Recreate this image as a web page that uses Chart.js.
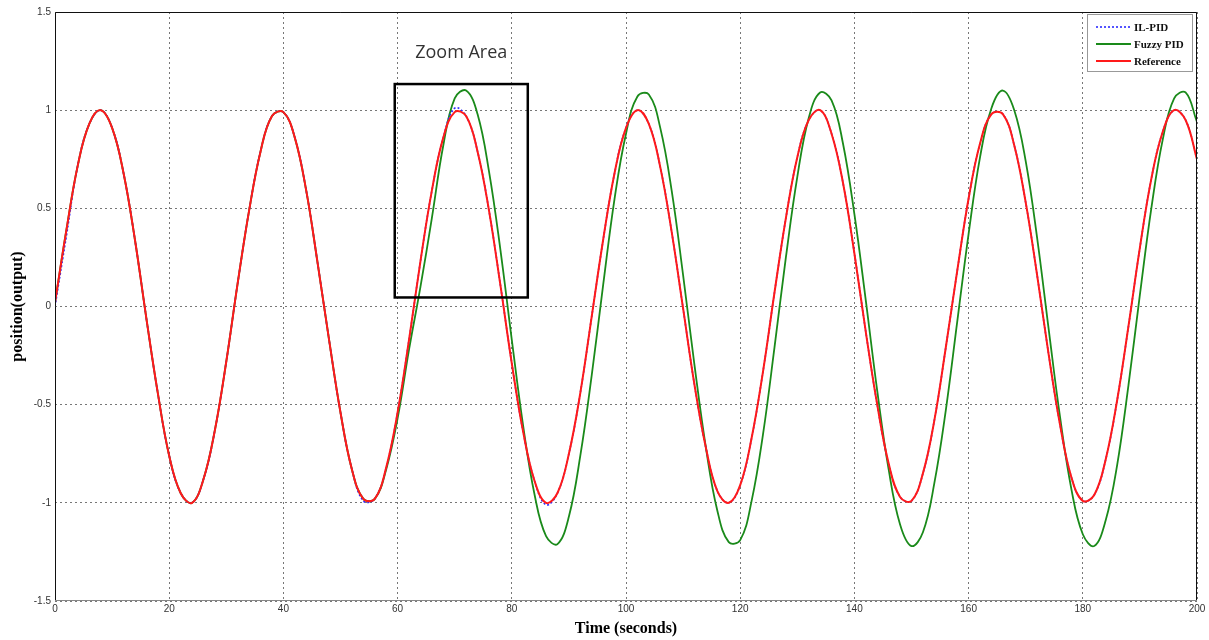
<!DOCTYPE html>
<html><head><meta charset="utf-8">
<script src="https://cdn.jsdelivr.net/npm/chart.js@4.4.1/dist/chart.umd.min.js"></script>
<style>html,body{margin:0;padding:0;background:#fff;}</style>
</head><body>
<canvas id="c" width="1209" height="640"></canvas>
<script>
// time axis (seconds)
const timeSec = [0,2,4,6,8,10,12,14,16,18,20,22,24,26,28,30,32,34,36,38,40,42,44,46,48,50,52,54,56,58,60,62,64,66,68,70,72,74,76,78,80,82,84,86,88,90,92,94,96,98,100,102,104,106,108,110,112,114,116,118,120,122,124,126,128,130,132,134,136,138,140,142,144,146,148,150,152,154,156,158,160,162,164,166,168,170,172,174,176,178,180,182,184,186,188,190,192,194,196,198,200];

const referenceVals = [0.02,0.39,0.72,0.93,1.00,0.91,0.68,0.34,-0.06,-0.44,
-0.76,-0.95,-1.00,-0.88,-0.63,-0.28,0.12,0.49,0.79,0.97,
0.99,0.86,0.59,0.22,-0.17,-0.54,-0.83,-0.98,-0.98,-0.82,
-0.54,-0.17,0.23,0.59,0.86,0.99,0.97,0.79,0.49,0.11,
-0.29,-0.64,-0.89,-1.00,-0.95,-0.75,-0.44,-0.05,0.34,0.68,
0.91,1.00,0.93,0.71,0.38,-0.01,-0.40,-0.72,-0.94,-1.00,
-0.91,-0.67,-0.33,0.07,0.45,0.76,0.95,1.00,0.88,0.63,
0.27,-0.13,-0.50,-0.80,-0.97,-0.99,-0.85,-0.58,-0.21,0.18,
0.55,0.83,0.98,0.98,0.82,0.53,0.16,-0.24,-0.60,-0.87,
-0.99,-0.96,-0.78,-0.48,-0.10,0.30,0.65,0.89,1.00,0.95,
0.75];

const ilPidVals = [0,0.36,0.72,0.93,1.00,0.91,0.68,0.34,-0.06,-0.44,
-0.76,-0.95,-1.00,-0.88,-0.63,-0.28,0.12,0.49,0.79,0.97,
0.99,0.86,0.59,0.22,-0.17,-0.54,-0.83,-0.99,-0.98,-0.82,
-0.54,-0.17,0.23,0.59,0.86,1.01,0.97,0.79,0.49,0.11,
-0.29,-0.64,-0.89,-1.01,-0.95,-0.75,-0.44,-0.05,0.34,0.68,
0.91,1.00,0.93,0.71,0.38,-0.01,-0.40,-0.72,-0.94,-1.00,
-0.91,-0.67,-0.33,0.07,0.45,0.76,0.95,1.00,0.88,0.63,
0.27,-0.13,-0.50,-0.80,-0.97,-0.99,-0.85,-0.58,-0.21,0.18,
0.55,0.83,0.98,0.98,0.82,0.53,0.16,-0.24,-0.60,-0.87,
-0.99,-0.96,-0.78,-0.48,-0.10,0.30,0.65,0.89,1.00,0.95,
0.75];

const fuzzyPidVals = [0.02,0.39,0.72,0.93,1.00,0.91,0.68,0.34,-0.06,-0.44,
-0.76,-0.95,-1.00,-0.88,-0.63,-0.28,0.12,0.49,0.79,0.97,
0.99,0.86,0.59,0.22,-0.17,-0.54,-0.83,-0.98,-0.98,-0.83,
-0.57,-0.22,0.10,0.45,0.82,1.06,1.10,0.98,0.69,0.29,
-0.17,-0.61,-0.96,-1.17,-1.21,-1.07,-0.76,-0.35,0.11,0.55,
0.88,1.07,1.08,0.91,0.59,0.16,-0.30,-0.72,-1.04,-1.20,
-1.19,-0.99,-0.65,-0.21,0.25,0.66,0.96,1.09,1.05,0.83,
0.47,0.03,-0.43,-0.83,-1.11,-1.22,-1.15,-0.90,-0.53,-0.08,
0.37,0.76,1.01,1.10,1.00,0.74,0.35,-0.11,-0.56,-0.93,
-1.16,-1.22,-1.09,-0.81,-0.40,0.06,0.50,0.85,1.06,1.09,
0.94];

const seriesNames = ['IL-PID','Fuzzy PID','Reference'];
const xTickVals = [0,20,40,60,80,100,120,140,160,180,200];
const yTickVals = [-1.5,-1,-0.5,0,0.5,1,1.5];
const zoomBox = {x0:59.5, x1:82.8, y0:0.046, y1:1.133};
const zoomLabel = 'Zoom Area';

const toPts = arr => timeSec.map((t,i)=>({x:t,y:arr[i]}));

const framePlugin = {
  id:'frame',
  afterDatasetsDraw(chart){
    const {ctx, chartArea:a, scales:{x,y}} = chart;
    ctx.save();
    // axes box
    ctx.lineWidth = 1;
    ctx.strokeStyle = '#111';
    ctx.beginPath();
    ctx.moveTo(a.left+0.5, a.bottom); ctx.lineTo(a.left+0.5, a.top+0.5);
    ctx.lineTo(a.right-0.5, a.top+0.5); ctx.lineTo(a.right-0.5, a.bottom);
    ctx.stroke();
    ctx.strokeStyle = '#888';
    ctx.beginPath(); ctx.moveTo(a.left, a.bottom-0.5); ctx.lineTo(a.right, a.bottom-0.5); ctx.stroke();
    // zoom box
    const zx0 = x.getPixelForValue(zoomBox.x0), zx1 = x.getPixelForValue(zoomBox.x1);
    const zy0 = y.getPixelForValue(zoomBox.y1), zy1 = y.getPixelForValue(zoomBox.y0);
    ctx.strokeStyle = '#000'; ctx.lineWidth = 2.5;
    ctx.strokeRect(zx0, zy0, zx1-zx0, zy1-zy0);
    ctx.fillStyle = '#333';
    ctx.font = '18px "Open Sans"';
    ctx.textAlign = 'center'; ctx.textBaseline = 'middle';
    ctx.fillText(zoomLabel, (zx0+zx1)/2, zy0-31);
    // legend
    const lw = 106, lh = 58;
    const lx = a.right - 4 - lw, ly = a.top + 2;
    ctx.fillStyle = '#fff'; ctx.fillRect(lx, ly, lw, lh);
    ctx.strokeStyle = '#999'; ctx.lineWidth = 1;
    ctx.strokeRect(lx+0.5, ly+0.5, lw-1, lh-1);
    ctx.font = 'bold 11px "Liberation Serif"';
    ctx.textAlign = 'left'; ctx.textBaseline = 'middle';
    chart.data.datasets.forEach((ds,i)=>{
      const ry = ly + 13 + i*17;
      ctx.strokeStyle = ds.borderColor; ctx.lineWidth = ds.borderWidth;
      ctx.setLineDash(ds.borderDash || []);
      ctx.beginPath(); ctx.moveTo(lx+9, ry); ctx.lineTo(lx+44, ry); ctx.stroke();
      ctx.setLineDash([]);
      ctx.fillStyle = '#111';
      ctx.fillText(ds.label, lx+47, ry+1);
    });
    ctx.restore();
  }
};

new Chart(document.getElementById('c'), {
  type:'line',
  data:{datasets:[
    {label:seriesNames[0], data:toPts(ilPidVals), borderColor:'#2b2bff', borderWidth:1.6, borderDash:[2,2], pointRadius:0, tension:0.4, order:2},
    {label:seriesNames[1], data:toPts(fuzzyPidVals), borderColor:'#1a8a1a', borderWidth:1.8, pointRadius:0, tension:0.4, order:3},
    {label:seriesNames[2], data:toPts(referenceVals), borderColor:'#ff1a1a', borderWidth:2, pointRadius:0, tension:0.4, order:1}
  ]},
  options:{
    responsive:false, animation:false,
    layout:{padding:{top:12,right:12,left:0,bottom:0}},
    plugins:{legend:{display:false}, tooltip:{enabled:false}},
    scales:{
      x:{type:'linear', min:0, max:200,
        afterBuildTicks: s => { s.ticks = xTickVals.map(v=>({value:v})); },
        afterFit: s => { s.height = 39; },
        ticks:{font:{size:10, family:'"Liberation Sans"'}, color:'#333', padding:2, maxRotation:0, callback: v => String(v)},
        grid:{color:'#777', lineWidth:1, drawTicks:false},
        border:{display:false, dash:[2,3]},
        title:{display:true, text:'Time (seconds)', font:{size:16, weight:'bold', family:'"Liberation Serif"'}, color:'#000', padding:{top:0,bottom:2}}
      },
      y:{type:'linear', min:-1.5, max:1.5,
        afterBuildTicks: s => { s.ticks = yTickVals.map(v=>({value:v})); },
        afterFit: s => { s.width = 55; },
        ticks:{font:{size:10, family:'"Liberation Sans"'}, color:'#333', padding:4, callback: v => String(v)},
        grid:{color:'#777', lineWidth:1, drawTicks:false},
        border:{display:false, dash:[2,3]},
        title:{display:true, text:'position(output)', font:{size:16, weight:'bold', family:'"Liberation Serif"'}, color:'#000', padding:{top:8,bottom:0}}
      }
    }
  },
  plugins:[framePlugin]
});
</script>
</body></html>
